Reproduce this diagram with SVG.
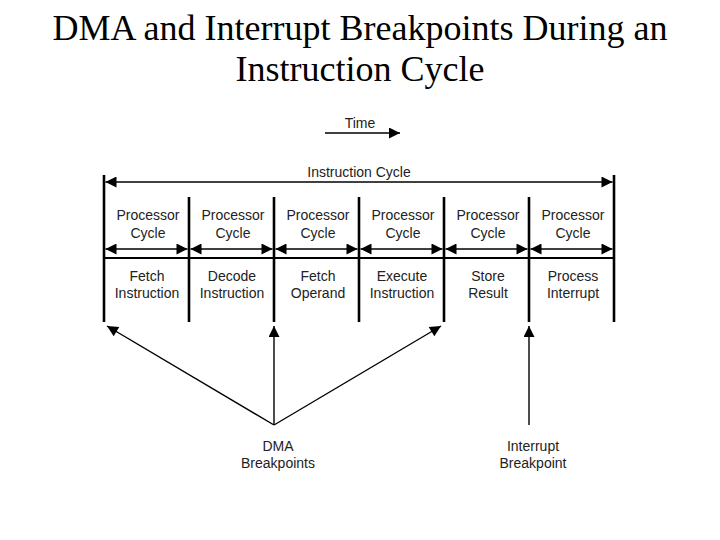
<svg xmlns="http://www.w3.org/2000/svg" width="720" height="540" viewBox="0 0 720 540">
<style>
.title{font-family:"Liberation Serif","Times New Roman",serif;font-size:36px;fill:#000;text-anchor:middle}
.lbl{font-family:"Liberation Sans",Arial,sans-serif;font-size:14px;fill:#222;text-anchor:middle}
.bar{stroke:#000;stroke-width:2.6;fill:none}
.arr{stroke:#000;stroke-width:1.4;fill:none}
</style>
<defs>
<marker id="ah2" viewBox="0 0 10 10" refX="10" refY="5" markerWidth="13" markerHeight="11" markerUnits="userSpaceOnUse" orient="auto-start-reverse">
<path d="M0,0 L10,5 L0,10 Z" fill="#000"/>
</marker>
</defs>
<rect width="720" height="540" fill="#fff"/>
<g id="title">
<text class="title" x="360" y="40">DMA and Interrupt Breakpoints During an</text>
<text class="title" x="360" y="81">Instruction Cycle</text>
</g>
<g id="time">
<text class="lbl" x="360" y="128">Time</text>
<line class="arr" x1="325" y1="133" x2="400" y2="133" marker-end="url(#ah2)"/>
</g>
<g id="frame">
<line class="bar" x1="104" y1="175" x2="104" y2="322"/>
<line class="bar" x1="614" y1="175" x2="614" y2="322"/>
<line class="bar" x1="189" y1="197" x2="189" y2="322"/>
<line class="bar" x1="274" y1="197" x2="274" y2="322"/>
<line class="bar" x1="359" y1="197" x2="359" y2="322"/>
<line class="bar" x1="444" y1="197" x2="444" y2="322"/>
<line class="bar" x1="529" y1="197" x2="529" y2="322"/>
<line x1="104" y1="258" x2="614" y2="258" stroke="#000" stroke-width="2.2"/>
</g>
<g id="instruction-cycle">
<text class="lbl" x="359" y="177">Instruction Cycle</text>
<line class="arr" x1="105.5" y1="182" x2="612.5" y2="182" marker-start="url(#ah2)" marker-end="url(#ah2)"/>
</g>
<g id="processor-cycles">
<text class="lbl" x="148" y="220">Processor</text><text class="lbl" x="148" y="238">Cycle</text>
<text class="lbl" x="233" y="220">Processor</text><text class="lbl" x="233" y="238">Cycle</text>
<text class="lbl" x="318" y="220">Processor</text><text class="lbl" x="318" y="238">Cycle</text>
<text class="lbl" x="403" y="220">Processor</text><text class="lbl" x="403" y="238">Cycle</text>
<text class="lbl" x="488" y="220">Processor</text><text class="lbl" x="488" y="238">Cycle</text>
<text class="lbl" x="573" y="220">Processor</text><text class="lbl" x="573" y="238">Cycle</text>
<line class="arr" x1="105.5" y1="249" x2="187.5" y2="249" marker-start="url(#ah2)" marker-end="url(#ah2)"/>
<line class="arr" x1="190.5" y1="249" x2="272.5" y2="249" marker-start="url(#ah2)" marker-end="url(#ah2)"/>
<line class="arr" x1="275.5" y1="249" x2="357.5" y2="249" marker-start="url(#ah2)" marker-end="url(#ah2)"/>
<line class="arr" x1="360.5" y1="249" x2="442.5" y2="249" marker-start="url(#ah2)" marker-end="url(#ah2)"/>
<line class="arr" x1="445.5" y1="249" x2="527.5" y2="249" marker-start="url(#ah2)" marker-end="url(#ah2)"/>
<line class="arr" x1="530.5" y1="249" x2="612.5" y2="249" marker-start="url(#ah2)" marker-end="url(#ah2)"/>
</g>
<g id="stages">
<text class="lbl" x="147" y="281">Fetch</text><text class="lbl" x="147" y="298">Instruction</text>
<text class="lbl" x="232" y="281">Decode</text><text class="lbl" x="232" y="298">Instruction</text>
<text class="lbl" x="318" y="281">Fetch</text><text class="lbl" x="318" y="298">Operand</text>
<text class="lbl" x="402" y="281">Execute</text><text class="lbl" x="402" y="298">Instruction</text>
<text class="lbl" x="488" y="281">Store</text><text class="lbl" x="488" y="298">Result</text>
<text class="lbl" x="573" y="281">Process</text><text class="lbl" x="573" y="298">Interrupt</text>
</g>
<g id="connectors">
<line class="arr" x1="274" y1="425" x2="107" y2="326" marker-end="url(#ah2)"/>
<line class="arr" x1="274" y1="425" x2="274" y2="326" marker-end="url(#ah2)"/>
<line class="arr" x1="274" y1="425" x2="441" y2="326" marker-end="url(#ah2)"/>
<line class="arr" x1="529" y1="425" x2="529" y2="326" marker-end="url(#ah2)"/>
</g>
<g id="dma">
<text class="lbl" x="278" y="451">DMA</text><text class="lbl" x="278" y="468">Breakpoints</text>
</g>
<g id="interrupt">
<text class="lbl" x="533" y="451">Interrupt</text><text class="lbl" x="533" y="468">Breakpoint</text>
</g>
</svg>
